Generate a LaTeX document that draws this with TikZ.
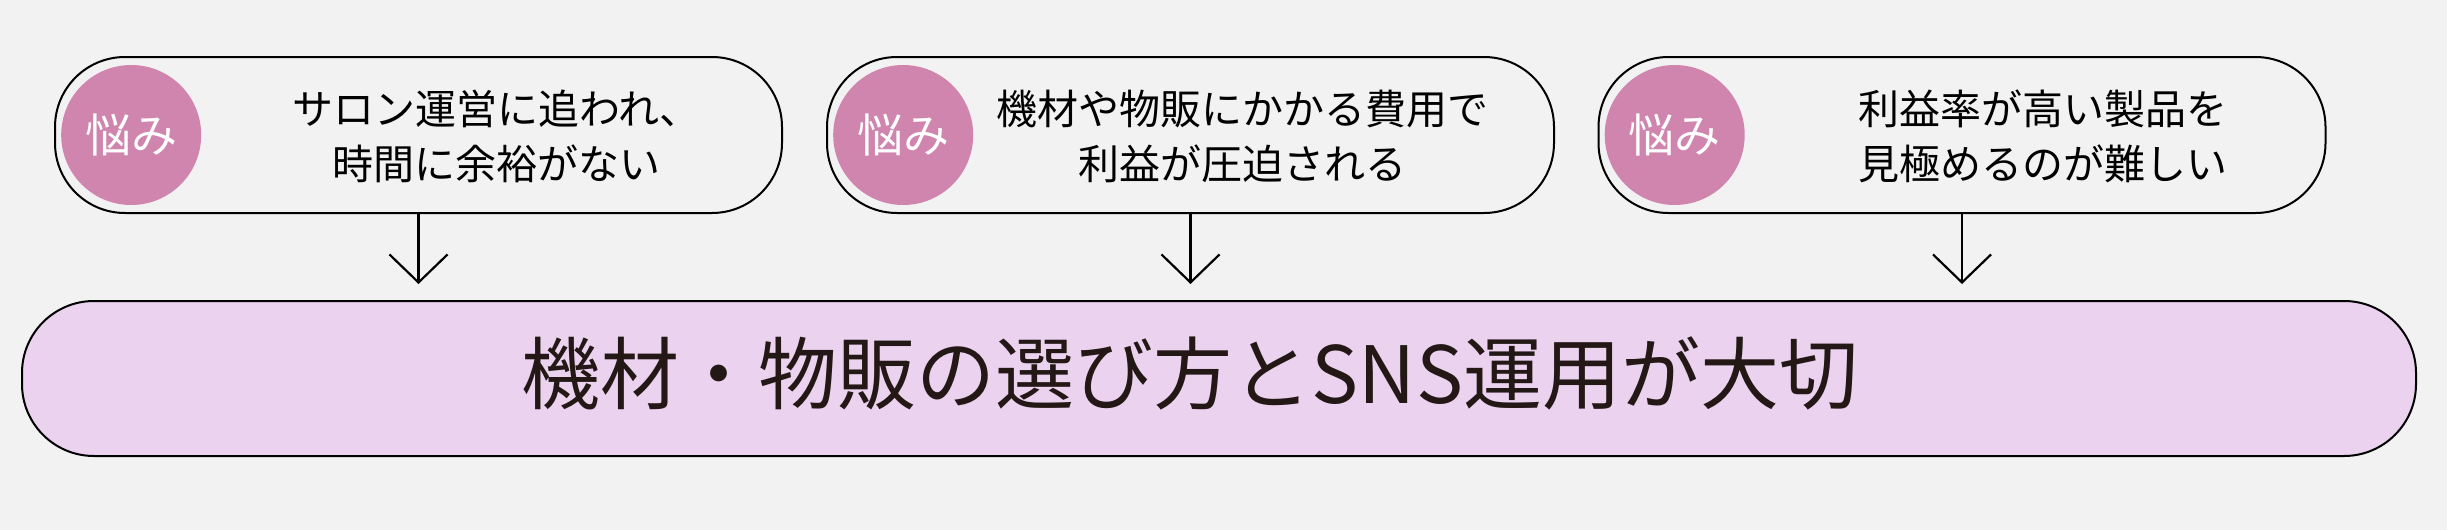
\documentclass[tikz,border=0pt]{standalone}
\usepackage{fontspec}
\setmainfont{Noto Sans CJK JP}
\usepackage{xcolor}
\usepackage{tikz}
\usetikzlibrary{arrows.meta,positioning,calc}
\definecolor{NayamiBack}{HTML}{F2F2F2}
\definecolor{NayamiPink}{HTML}{D085AF}
\definecolor{NayamiLilac}{HTML}{EBD3F0}
\definecolor{NayamiInk}{HTML}{231815}

\begin{document}
\begin{tikzpicture}[
  x=1pt, y=-1pt,
  worry/.style={draw=black, line width=2pt, fill=NayamiBack, rounded corners=70pt, minimum width=727pt, minimum height=156pt},
  badge/.style={circle, fill=NayamiPink, minimum size=140pt, inner sep=0pt, text=white, font=\fontsize{46}{46}\selectfont},
  worrytext/.style={align=center, text=black, font=\fontsize{41}{55}\selectfont},
  mainbar/.style={draw=black, line width=2pt, fill=NayamiLilac, rounded corners=72pt, minimum width=2394pt, minimum height=155pt},
  arrow/.style={-{Straight Barb[length=28pt, width=58pt]}, line width=2.2pt, shorten >=16pt}
]
% page
\path[fill=NayamiBack] (0,0) rectangle (2447,530);

% three worries
\node[worry] (box1) at (418.5,135) {};
\node[worry] (box2) at (1190.5,135) {};
\node[worry] (box3) at (1962,135) {};

\node[badge, right=7pt of box1.west] (badge1) {悩み};
\node[badge, right=7pt of box2.west] (badge2) {悩み};
\node[badge, right=7pt of box3.west] (badge3) {悩み};

\node[worrytext] (text1) at ($(box1.center)+(78,1)$) {サロン運営に追われ、\\時間に余裕がない};
\node[worrytext] (text2) at ($(box2.center)+(52,1)$) {機材や物販にかかる費用で\\利益が圧迫される};
\node[worrytext] (text3) at ($(box3.center)+(81,1)$) {利益率が高い製品を\\見極めるのが難しい};

% conclusion
\node[mainbar] (bar) at (1219,378.5) {};
\node[text=NayamiInk, font=\fontsize{79}{79}\selectfont] (message) at ($(bar.center)+(-29,-5)$) {機材・物販の選び方とSNS運用が大切};

\draw[arrow] (box1.south) -- (box1.south |- bar.north);
\draw[arrow] (box2.south) -- (box2.south |- bar.north);
\draw[arrow] (box3.south) -- (box3.south |- bar.north);
\end{tikzpicture}
\end{document}
